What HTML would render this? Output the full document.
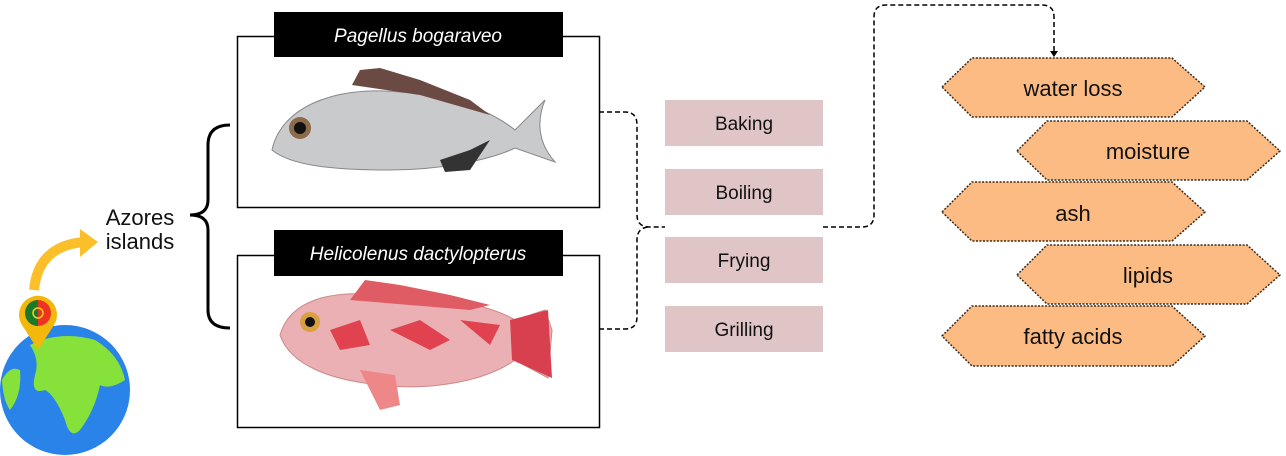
<!DOCTYPE html>
<html><head><meta charset="utf-8"><style>
body{margin:0;background:#fff;}
svg{display:block;font-family:"Liberation Sans",sans-serif;}
</style></head><body>
<svg width="1286" height="456" viewBox="0 0 1286 456">
<rect x="237.5" y="36.5" width="362" height="171" fill="none" stroke="#000" stroke-width="1.5"/>
<rect x="237.5" y="255.5" width="362" height="172" fill="none" stroke="#000" stroke-width="1.5"/>
<rect x="274" y="12" width="289" height="45" fill="#000"/>
<rect x="274" y="230" width="289" height="46" fill="#000"/>
<text x="418" y="42" fill="#fff" font-size="19" font-style="italic" text-anchor="middle">Pagellus bogaraveo</text>
<text x="418" y="260" fill="#fff" font-size="19" font-style="italic" text-anchor="middle">Helicolenus dactylopterus</text>
<path d="M272,150 C280,110 330,85 400,92 C450,95 490,110 515,130 L545,100 C535,125 540,145 555,162 L515,148 C490,160 440,170 390,170 C330,170 290,165 272,150Z" fill="#c9cacc" stroke="#888" stroke-width="1"/>
<path d="M352,85 L360,70 L380,68 L420,80 L470,100 L490,115 L420,95Z" fill="#6b4a44"/>
<path d="M440,160 L470,150 L490,140 L470,170 L445,172Z" fill="#333"/>
<circle cx="300" cy="128" r="11" fill="#8a6b4a"/><circle cx="300" cy="128" r="6" fill="#111"/>
<path d="M280,335 C290,300 330,290 380,295 C440,295 490,305 515,320 L545,310 L552,330 L548,378 L515,360 C480,385 420,390 380,385 C330,380 290,365 280,335Z" fill="#ebb0b4" stroke="#c88" stroke-width="1"/>
<path d="M350,300 L365,280 L400,285 L450,295 L490,305 L470,310Z" fill="#e05c64"/>
<path d="M390,330 L420,320 L450,340 L430,350Z M460,320 L500,325 L490,345Z M330,330 L360,320 L370,345 L340,350Z" fill="#e0434f"/>
<path d="M360,370 L380,410 L400,405 L395,375Z" fill="#e88"/>
<path d="M510,320 L548,310 L552,378 L512,360Z" fill="#d84050"/>
<circle cx="310" cy="322" r="10" fill="#d8a040"/><circle cx="310" cy="322" r="5" fill="#111"/>
<g fill="#e0c5c7">
<rect x="665" y="100" width="158" height="46"/><rect x="665" y="169" width="158" height="46"/>
<rect x="665" y="237" width="158" height="46"/><rect x="665" y="306" width="158" height="46"/>
</g>
<g font-size="19" text-anchor="middle" fill="#111">
<text x="744" y="130">Baking</text><text x="744" y="199">Boiling</text>
<text x="744" y="267">Frying</text><text x="744" y="336">Grilling</text>
</g>
<g fill="none" stroke="#000" stroke-width="1.5" stroke-dasharray="5,3">
<path d="M599,112 H625 Q637,112 637,125 V215 Q637,227 650,227 H665"/>
<path d="M599,329 H625 Q637,329 637,317 V240 Q637,227 650,227"/>
<path d="M823,227 H862 Q874,227 874,215 V17 Q874,5 886,5 H1042 Q1054,5 1054,17 V52"/>
</g>
<path d="M1050,51 L1058,51 L1054,57Z" fill="#000"/>
<g fill="#fdbb84" stroke="#3a2a1a" stroke-width="1.5" stroke-dasharray="2,1.5">
<path d="M942,87 L972,58 H1172 L1205,87 L1172,117 H972Z"/>
<path d="M1017,151 L1047,121 H1247 L1280,151 L1247,180 H1047Z"/>
<path d="M942,212 L972,182 H1172 L1205,212 L1172,241 H972Z"/>
<path d="M1017,275 L1047,245 H1247 L1280,275 L1247,304 H1047Z"/>
<path d="M942,336 L972,306 H1172 L1205,336 L1172,366 H972Z"/>
</g>
<g font-size="22" text-anchor="middle" fill="#111">
<text x="1073" y="96">water loss</text><text x="1148" y="159">moisture</text>
<text x="1073" y="221">ash</text><text x="1148" y="283">lipids</text>
<text x="1073" y="344">fatty acids</text>
</g>
<path d="M230,125 Q208,125 208,145 V200 Q208,215 190,215 Q208,215 208,230 V310 Q208,328 230,328" fill="none" stroke="#000" stroke-width="3"/>
<text x="140" y="225" font-size="22" text-anchor="middle" fill="#111">Azores</text>
<text x="140" y="249" font-size="22" text-anchor="middle" fill="#111">islands</text>
<circle cx="65" cy="390" r="65" fill="#2a83e8"/>
<path d="M30,345 Q60,330 95,340 Q120,355 125,380 Q110,390 100,385 Q95,410 80,430 Q70,440 65,420 Q55,395 45,390 Q30,395 35,375 Q40,360 30,345Z" fill="#86e23a"/>
<path d="M2,380 Q10,365 20,370 Q22,395 10,410 Q3,400 2,380Z" fill="#86e23a"/>
<path d="M34,290 Q38,246 84,242" fill="none" stroke="#fbbf2a" stroke-width="10"/>
<path d="M80,229 L98,242 L80,257Z" fill="#fbbf2a"/>
<path d="M38,350 L22,325 A19,19 0 1 1 54,325Z" fill="#f2b90c"/>
<circle cx="38" cy="313" r="13" fill="#e32"/>
<path d="M38,300 A13,13 0 0 0 38,326Z" fill="#1a7a2a"/>
<circle cx="38" cy="313" r="5" fill="none" stroke="#f5d020" stroke-width="1.5"/>
</svg>
</body></html>
